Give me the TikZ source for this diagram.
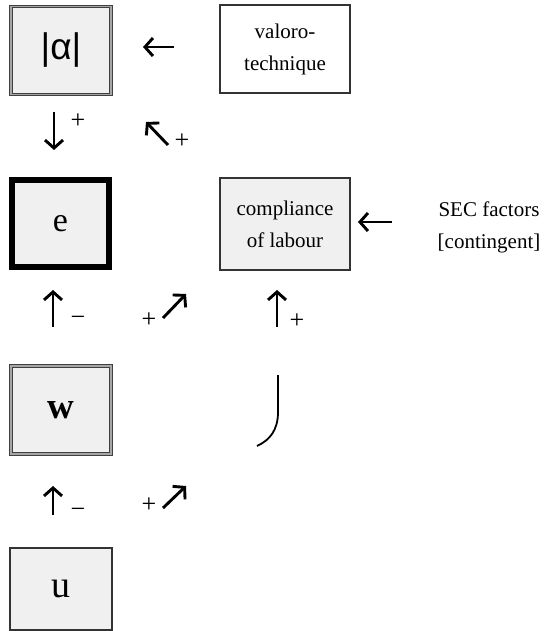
\documentclass[tikz,border=0pt]{standalone}
\usepackage{fontspec}
\setmainfont{Liberation Serif}
\newfontfamily\greekfont{Liberation Sans}
\usetikzlibrary{arrows.meta}
\definecolor{boxgray}{HTML}{F0F0F0}
\tikzset{
  box/.style={rectangle, inner sep=0pt, fill=boxgray, draw=black!80, line width=1pt},
  dblbox/.style={box, draw=black!75, double=gray!70, double distance=1.6pt, line width=0.9pt},
  thickbox/.style={box, draw=black, line width=6pt},
  plainbox/.style={box, fill=white, line width=1.3pt},
  boxtext/.style={font=\fontsize{21}{32}\selectfont, align=center},
  glyph/.style={line width=2.9pt, -{Straight Barb[length=8pt,width=18pt,line width=2.9pt]}},
  sign/.style={font=\fontsize{26}{26}\selectfont, inner sep=0pt}
}
\begin{document}
\begin{tikzpicture}[x=1pt,y=-1pt]
\useasboundingbox[fill=white] (0,0) rectangle (547,631);

% boxes
\node[dblbox, minimum width=100pt, minimum height=88pt] (alpha) at (61,50.5)
  {\greekfont\fontsize{37}{37}\selectfont |α|};
\node[plainbox, boxtext, minimum width=130pt, minimum height=88pt] (valoro) at (285,49)
  {valoro-\\technique};
\node[thickbox, minimum width=97pt, minimum height=87pt] (e) at (60.5,223.5)
  {\fontsize{34}{34}\selectfont e};
\node[box, boxtext, minimum width=130pt, minimum height=92pt, line width=1.3pt] (compl) at (285,224)
  {compliance\\of labour};
\node[boxtext, inner sep=0pt] (sec) at (489,227) {SEC factors\\{[contingent]}};
\node[dblbox, minimum width=100pt, minimum height=88pt] (w) at (61,410)
  {\fontsize{37}{37}\selectfont\bfseries w};
\node[box, minimum width=102pt, minimum height=82pt, line width=1.3pt] (u) at (61,589)
  {\fontsize{38}{38}\selectfont u};

% arrow glyphs
\coordinate (a1s) at (174,47);  \coordinate (a1e) at (143,47);
\draw[glyph] (a1s) -- (a1e);
\coordinate (a2s) at (54,112);  \coordinate (a2e) at (54,150);
\draw[glyph] (a2s) -- (a2e);
\node[sign] (p2) at (78,121) {+};
\coordinate (a3s) at (168,145); \coordinate (a3e) at (146,122);
\draw[glyph] (a3s) -- (a3e);
\node[sign] (p3) at (182,141) {+};
\coordinate (a4s) at (392,222); \coordinate (a4e) at (358,222);
\draw[glyph] (a4s) -- (a4e);

\coordinate (a5s) at (53,327);  \coordinate (a5e) at (53,290);
\draw[glyph] (a5s) -- (a5e);
\node[sign] (m5) at (78,321) {−};
\node[sign] (p6) at (149,320) {+};
\coordinate (a6s) at (163,318); \coordinate (a6e) at (186,294);
\draw[glyph] (a6s) -- (a6e);
\coordinate (a7s) at (277,327); \coordinate (a7e) at (277,290);
\draw[glyph] (a7s) -- (a7e);
\node[sign] (p7) at (297,321) {+};

% curve
\coordinate (c1) at (278,375);
\coordinate (c2) at (257,446);
\draw[line width=1.8pt] (c1) -- (278,412) .. controls (278,430) and (270,440) .. (c2);

\coordinate (a8s) at (53,515);  \coordinate (a8e) at (53,486);
\draw[glyph] (a8s) -- (a8e);
\node[sign] (m8) at (78,513) {−};
\node[sign] (p9) at (149,505) {+};
\coordinate (a9s) at (163,508); \coordinate (a9e) at (186,486);
\draw[glyph] (a9s) -- (a9e);
\end{tikzpicture}
\end{document}
